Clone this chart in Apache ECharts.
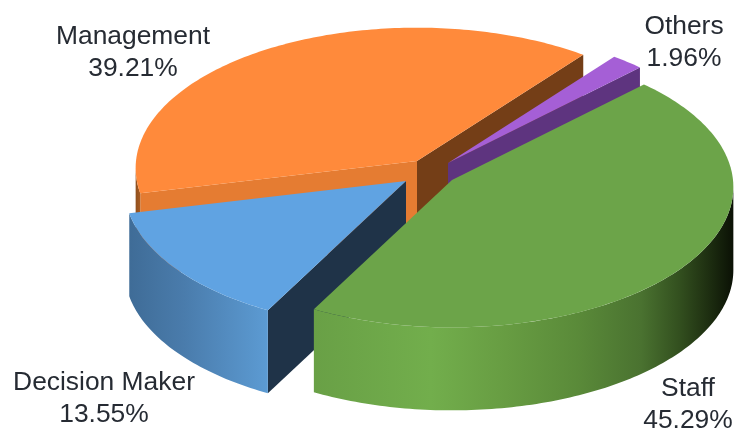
<!DOCTYPE html>
<html>
<head>
<meta charset="utf-8">
<style>
  html, body { margin: 0; padding: 0; background: #ffffff; }
  #chart { width: 734px; height: 432px; }
</style>
<script src="https://cdn.jsdelivr.net/npm/echarts@6/dist/echarts.min.js"></script>
</head>
<body>
<div id="chart"></div>
<script>
// Shares of respondents by role, clockwise from the first slice.
var categories = ['Staff', 'Decision Maker', 'Management', 'Others'];
var shares = [45.29, 13.55, 39.21, 1.96];

// Slice apex on the page (exploded pie), and paint order back to front.
var apexX = [452, 406, 417, 448];
var apexY = [180, 181, 161, 163];
var paintRank = [3, 2, 0, 1];

// Slice colours.
var topColors = ['#6CA449', '#60A3E2', '#FF8A3B', '#A55FD6'];
var startFaceColors = ['#4F7A32', '#1F3348', '#E57C32', '#5E347F'];
var endFaceColors = ['#4F7A32', '#1F3348', '#743E17', '#5E347F'];
var wallStops = [
  [[0, '#69A046'], [0.28, '#72AE4C'], [0.46, '#679C42'], [0.63, '#5A8A39'],
   [0.78, '#4A7230'], [0.87, '#33501F'], [0.94, '#1E2F11'], [1, '#0B1105']],
  [[0, '#3F6C97'], [0.4, '#4A7CAC'], [1, '#5C9BD3']],
  [[0, '#8F4F1E'], [1, '#A85C22']],
  [[0, '#5E347F'], [1, '#5E347F']]
];

// Label centres, one line pair per slice.
var labelX = [688, 104, 133, 684];
var labelY = [405, 399, 53, 43];

// Tilted-disc projection of the pie.
var firstAngle = 45;
var radiusX = 281;
var radiusY = 140;
var tilt = 0.05;
var depth = 83;

var total = shares.reduce(function (a, b) { return a + b; }, 0);
var RAD = Math.PI / 180;

// The wall's visible range runs between the two points where the rim turns vertical.
var silhouetteRight = Math.acos(-tilt) / RAD;
var silhouetteLeft = 360 - silhouetteRight;

function rim(deg) {
  var s = Math.sin(deg * RAD), c = Math.cos(deg * RAD), w = 1 + tilt * c;
  return [radiusX * s / w, -radiusY * c / w];
}

function sliceSpan(index) {
  var start = firstAngle;
  for (var i = 0; i < index; i++) start += shares[i] / total * 360;
  return [start, start + shares[index] / total * 360];
}

function arc(from, to, ox, oy) {
  var pts = [], n = Math.max(2, Math.ceil(Math.abs(to - from)));
  for (var i = 0; i <= n; i++) {
    var p = rim(from + (to - from) * i / n);
    pts.push([ox + p[0], oy + p[1]]);
  }
  return pts;
}

function cutFace(deg, ox, oy, fill, z) {
  var p = rim(deg);
  return {
    type: 'polygon', z2: z, silent: true,
    shape: { points: [[ox, oy], [ox + p[0], oy + p[1]], [ox + p[0], oy + p[1] + depth], [ox, oy + depth]] },
    style: { fill: fill }
  };
}

function renderSlice(params, api) {
  var i = params.dataIndex;
  var span = sliceSpan(i), ox = apexX[i], oy = apexY[i];
  var base = paintRank[i] * 10;
  var kids = [];

  // Cut faces show only when they turn towards the viewer.
  if (Math.cos((span[0] - 90) * RAD) < 0) kids.push(cutFace(span[0], ox, oy, startFaceColors[i], base));
  if (Math.cos((span[1] + 90) * RAD) < 0) kids.push(cutFace(span[1], ox, oy, endFaceColors[i], base + 1));

  // Outer wall along the front part of the rim.
  var from = Math.max(span[0], silhouetteRight), to = Math.min(span[1], silhouetteLeft);
  if (to > from) {
    var upper = arc(from, to, ox, oy);
    var lower = upper.map(function (p) { return [p[0], p[1] + depth]; }).reverse();
    var xs = upper.map(function (p) { return p[0]; });
    kids.push({
      type: 'polygon', z2: base + 2, silent: true,
      shape: { points: upper.concat(lower) },
      style: {
        fill: new echarts.graphic.LinearGradient(
          Math.min.apply(null, xs), 0, Math.max.apply(null, xs), 0,
          wallStops[i].map(function (s) { return { offset: s[0], color: s[1] }; }), true)
      }
    });
  }

  // Top face.
  kids.push({
    type: 'polygon', z2: base + 3, silent: true,
    shape: { points: [[ox, oy]].concat(arc(span[0], span[1], ox, oy)) },
    style: { fill: topColors[i] }
  });

  // Name and share.
  kids.push({
    type: 'text', z2: 100, silent: true,
    style: {
      text: categories[i] + '\n' + api.value(0).toFixed(2) + '%',
      x: labelX[i], y: labelY[i],
      align: 'center', verticalAlign: 'middle',
      font: '26.4px "Liberation Sans", Arial, sans-serif',
      lineHeight: 32, fill: '#262b33'
    }
  });

  return { type: 'group', children: kids };
}

var chart = echarts.init(document.getElementById('chart'), null, { renderer: 'canvas' });
chart.setOption({
  animation: false,
  backgroundColor: '#ffffff',
  series: [{
    type: 'custom',
    coordinateSystem: 'none',
    renderItem: renderSlice,
    data: shares.map(function (v) { return [v]; })
  }]
});
</script>
</body>
</html>
